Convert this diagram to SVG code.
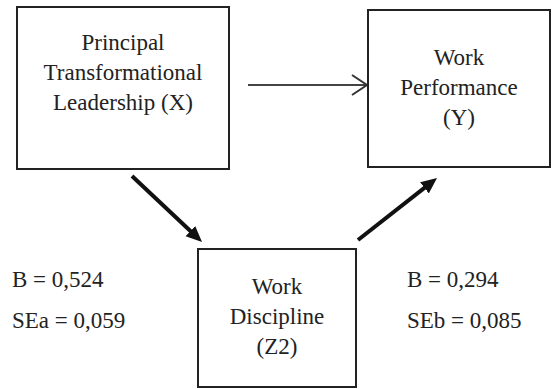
<svg xmlns="http://www.w3.org/2000/svg" width="552" height="389" viewBox="0 0 552 389">
<defs>
<marker id="solid" markerUnits="userSpaceOnUse" markerWidth="18" markerHeight="16" refX="4" refY="7" orient="auto">
<path d="M0,0 L16,7 L0,14 Z" fill="#111"/>
</marker>
<marker id="open" markerUnits="userSpaceOnUse" markerWidth="18" markerHeight="24" refX="16" refY="11" orient="auto">
<path d="M1,1 L16,11 L1,21" fill="none" stroke="#333" stroke-width="2"/>
</marker>
</defs>
<rect width="552" height="389" fill="#fff"/>
<g id="connectors" fill="none">
<line x1="248" y1="85" x2="367" y2="85" stroke="#444" stroke-width="2" marker-end="url(#open)"/>
<line x1="132" y1="176" x2="193.3" y2="233.8" stroke="#111" stroke-width="4" marker-end="url(#solid)"/>
<line x1="358" y1="240" x2="427.6" y2="185.4" stroke="#111" stroke-width="4" marker-end="url(#solid)"/>
</g>
<g id="nodeX">
<rect x="17" y="7" width="212" height="162" fill="#fff" stroke="#222" stroke-width="2"/>
<text x="123" y="50" font-size="23" font-family="Liberation Serif, Times New Roman, serif" fill="#222" text-anchor="middle">Principal</text>
<text x="123" y="80" font-size="23" font-family="Liberation Serif, Times New Roman, serif" fill="#222" text-anchor="middle">Transformational</text>
<text x="123" y="110" font-size="23" font-family="Liberation Serif, Times New Roman, serif" fill="#222" text-anchor="middle">Leadership (X)</text>
</g>
<g id="nodeY">
<rect x="368" y="10" width="182" height="157" fill="#fff" stroke="#222" stroke-width="2"/>
<text x="459" y="65" font-size="23" font-family="Liberation Serif, Times New Roman, serif" fill="#222" text-anchor="middle">Work</text>
<text x="459" y="95" font-size="23" font-family="Liberation Serif, Times New Roman, serif" fill="#222" text-anchor="middle">Performance</text>
<text x="459" y="125" font-size="23" font-family="Liberation Serif, Times New Roman, serif" fill="#222" text-anchor="middle">(Y)</text>
</g>
<g id="nodeZ">
<rect x="198" y="249" width="158" height="138" fill="#fff" stroke="#222" stroke-width="2"/>
<text x="277" y="294" font-size="23" font-family="Liberation Serif, Times New Roman, serif" fill="#222" text-anchor="middle">Work</text>
<text x="277" y="324" font-size="23" font-family="Liberation Serif, Times New Roman, serif" fill="#222" text-anchor="middle">Discipline</text>
<text x="277" y="354" font-size="23" font-family="Liberation Serif, Times New Roman, serif" fill="#222" text-anchor="middle">(Z2)</text>
</g>
<g id="labels">
<text x="12" y="287" font-size="23" font-family="Liberation Serif, Times New Roman, serif" fill="#222">B = 0,524</text>
<text x="12" y="328" font-size="23" font-family="Liberation Serif, Times New Roman, serif" fill="#222">SEa = 0,059</text>
<text x="407" y="287" font-size="23" font-family="Liberation Serif, Times New Roman, serif" fill="#222">B = 0,294</text>
<text x="407" y="328" font-size="23" font-family="Liberation Serif, Times New Roman, serif" fill="#222">SEb = 0,085</text>
</g>
</svg>
